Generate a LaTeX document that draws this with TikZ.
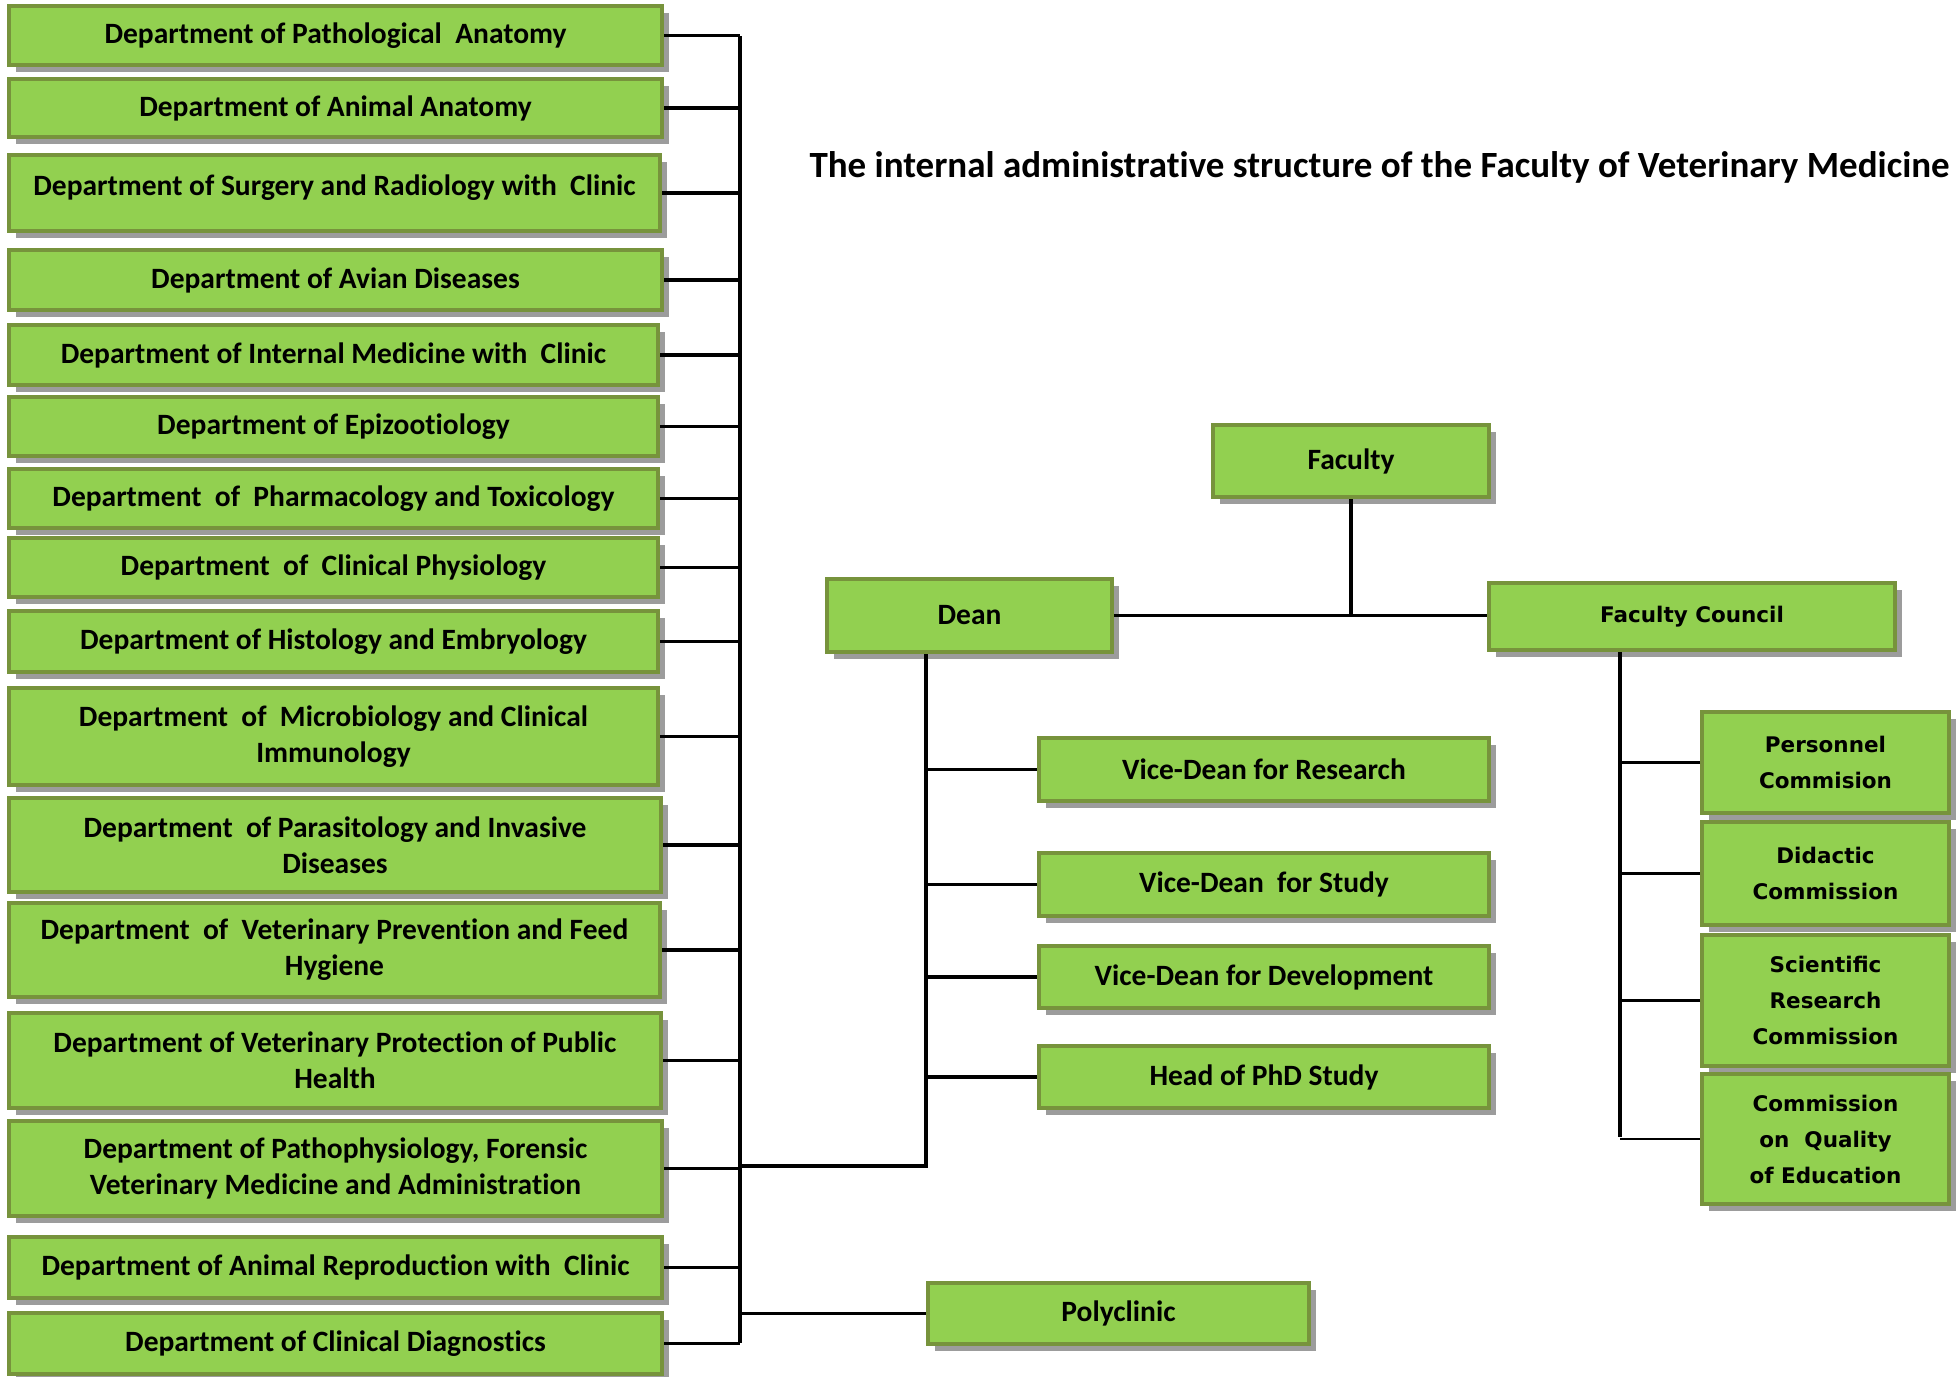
\documentclass[tikz,border=0pt]{standalone}
\usepackage{fontspec}
\setmainfont{Carlito}[Ligatures={NoCommon,NoContextual}]
\newfontfamily\verdfont{DejaVu Sans}
\usetikzlibrary{shadows}
\definecolor{boxfill}{HTML}{92D050}
\definecolor{boxborder}{HTML}{77933C}
\definecolor{shadowgray}{HTML}{9C9C9C}
\tikzset{
  box/.style={draw=boxborder, line width=4pt, fill=boxfill, align=center, inner sep=0pt,
    font=\bfseries\fontsize{29.5}{36}\selectfont,
    general shadow={fill=shadowgray, shadow xshift=7pt, shadow yshift=-7pt}},
  vbox/.style={font=\verdfont\bfseries\fontsize{21.5}{36}\selectfont},
  conn/.style={draw=black, line width=3.5pt},
  thinconn/.style={draw=black, line width=1.8pt},
}
\newcommand{\orgbox}[7][]{%
  \node[box,#1,minimum width={#4-#2},minimum height={#5-#3}] (#6) at ({(#2+#4)/2},{(#3+#5)/2}) {#7};}
\begin{document}
\begin{tikzpicture}[x=1pt,y=-1pt]
\useasboundingbox (0,0) rectangle (1959,1376);
% left departments
\orgbox{9}{6}{662}{65}{d1}{Department of Pathological\ \ Anatomy}
\orgbox{9}{79}{662}{137}{d2}{Department of Animal Anatomy}
\orgbox{9}{155}{660}{231}{d3}{Department of Surgery and Radiology with\ \ Clinic\\[-21pt]\mbox{}}
\orgbox{9}{250}{662}{310}{d4}{Department of Avian Diseases}
\orgbox{9}{325}{658}{385}{d5}{Department of Internal Medicine with\ \ Clinic}
\orgbox{9}{397}{658}{456}{d6}{Department of Epizootiology}
\orgbox{9}{469}{658}{528}{d7}{Department\ \ of\ \ Pharmacology and Toxicology}
\orgbox{9}{538}{658}{597}{d8}{Department\ \ of\ \ Clinical Physiology}
\orgbox{9}{611}{658}{672}{d9}{Department of Histology and Embryology}
\orgbox{9}{688}{658}{785}{d10}{Department\ \ of\ \ Microbiology and Clinical\\Immunology}
\orgbox{9}{798}{661}{892}{d11}{Department\ \ of Parasitology and Invasive\\Diseases}
\orgbox{9}{903}{660}{997}{d12}{Department\ \ of\ \ Veterinary Prevention and Feed\\Hygiene}
\orgbox{9}{1013}{661}{1108}{d13}{Department of Veterinary Protection of Public\\Health}
\orgbox{9}{1121}{662}{1216}{d14}{Department of Pathophysiology, Forensic\\Veterinary Medicine and Administration}
\orgbox{9}{1237}{662}{1298}{d15}{Department of Animal Reproduction with\ \ Clinic}
\orgbox{9}{1313}{662}{1374}{d16}{Department of Clinical Diagnostics}
% title
\node[font=\bfseries\fontsize{37}{40}\selectfont, anchor=west] (title) at (806,167) {The internal administrative structure of the Faculty of Veterinary Medicine};
% centre
\orgbox{1213}{425}{1489}{497}{faculty}{Faculty}
\orgbox{827}{579}{1112}{652}{dean}{Dean}
\orgbox[vbox]{1489}{583}{1895}{650}{council}{Faculty Council}
\orgbox{1039}{738}{1489}{801}{vd1}{Vice-Dean for Research}
\orgbox{1039}{853}{1489}{916}{vd2}{Vice-Dean\ \ for Study}
\orgbox{1039}{946}{1489}{1008}{vd3}{Vice-Dean for Development}
\orgbox{1039}{1046}{1489}{1108}{vd4}{Head of PhD Study}
\orgbox{928}{1283}{1309}{1344}{poly}{Polyclinic}
% commissions
\orgbox[vbox]{1702}{712}{1949}{813}{c1}{Personnel\\Commision}
\orgbox[vbox]{1702}{822}{1949}{925}{c2}{Didactic\\Commission}
\orgbox[vbox]{1702}{935}{1949}{1066}{c3}{Scientific\\Research\\Commission}
\orgbox[vbox]{1702}{1074}{1949}{1204}{c4}{Commission\\on\ \ Quality\\of Education}
% connectors
\coordinate (bustop) at (740,36);
\coordinate (busbot) at (740,1343);
\draw[conn] (bustop) -- (busbot);
\foreach \n in {1,...,16} {\draw[conn] (d\n.east) -- (d\n.east -| bustop);}
\coordinate (dv) at (926,1166);
\draw[conn] (dean.south -| dv) -- (dv) -- (dv -| bustop);
\foreach \n in {1,...,4} {\draw[conn] (vd\n.west) -- (vd\n.west -| dv);}
\draw[conn] (poly.west) -- (poly.west -| bustop);
\draw[conn] (dean.east) -- (dean.east -| council.west);
\draw[conn] (faculty.south) -- (faculty.south |- dean.east);
\coordinate (cv) at (1620,1137);
\draw[conn] (council.south -| cv) -- (cv);
\foreach \n in {1,2,3} {\draw[conn] (c\n.west) -- (c\n.west -| cv);}
\draw[thinconn] (c4.west) -- (c4.west -| cv);
\end{tikzpicture}
\end{document}
